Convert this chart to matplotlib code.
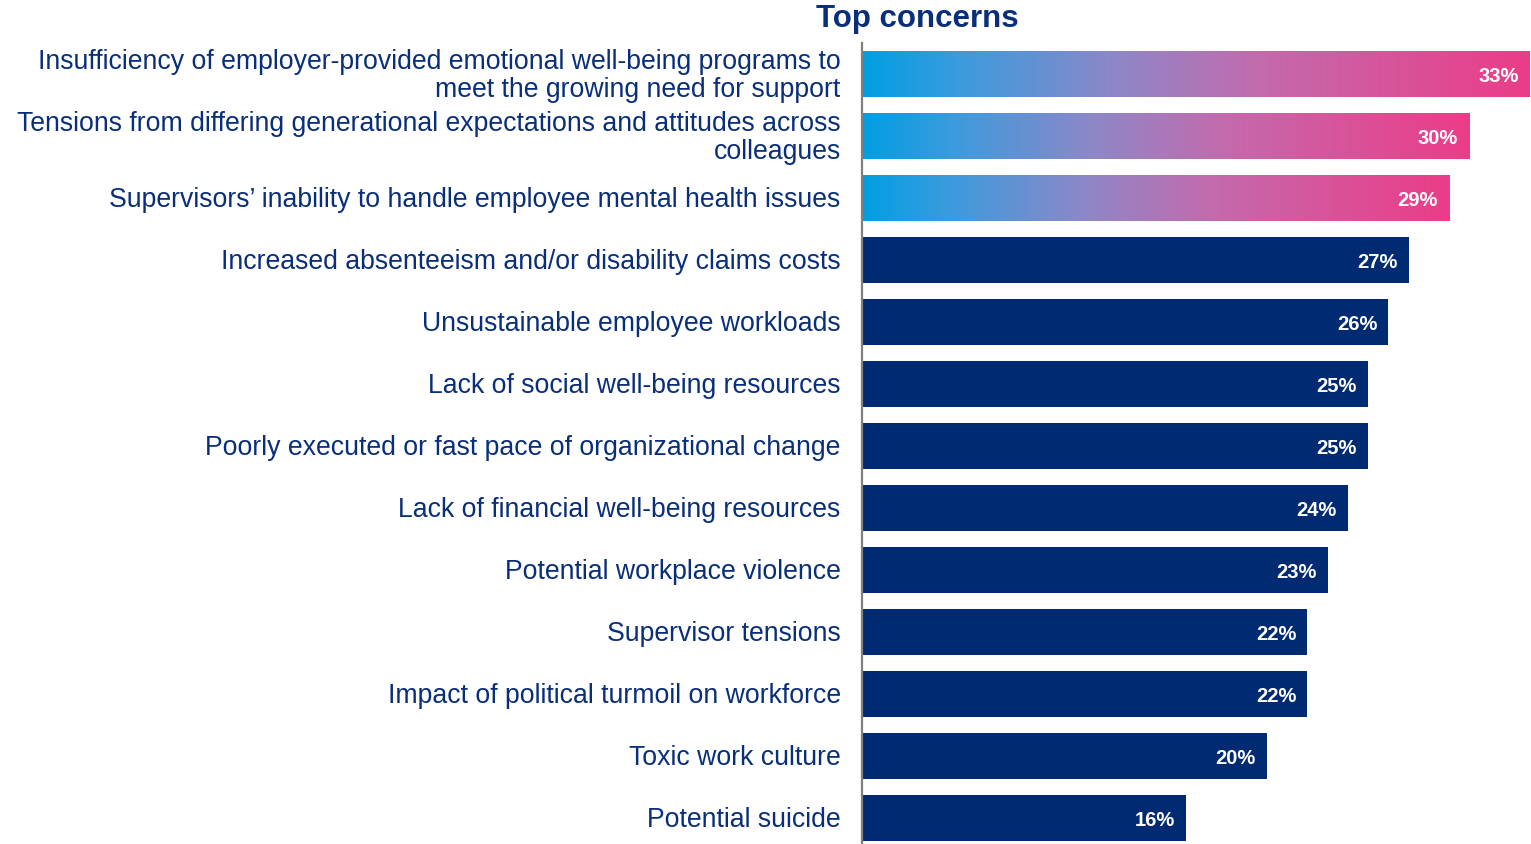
"""Horizontal bar chart of the top workplace mental health concerns."""

import matplotlib

matplotlib.use("Agg")

import matplotlib.pyplot as plt
import numpy as np
from matplotlib.colors import LinearSegmentedColormap

CONCERNS = [
    "Insufficiency of employer-provided emotional well-being programs to\nmeet the growing need for support",
    "Tensions from differing generational expectations and attitudes across\ncolleagues",
    "Supervisors\u2019 inability to handle employee mental health issues",
    "Increased absenteeism and/or disability claims costs",
    "Unsustainable employee workloads",
    "Lack of social well-being resources",
    "Poorly executed or fast pace of organizational change",
    "Lack of financial well-being resources",
    "Potential workplace violence",
    "Supervisor tensions",
    "Impact of political turmoil on workforce",
    "Toxic work culture",
    "Potential suicide",
]
SHARES = [33, 30, 29, 27, 26, 25, 25, 24, 23, 22, 22, 20, 16]
HIGHLIGHTED = 3  # the first few bars get the gradient fill

NAVY = "#002b73"
TEXT = "#0a2f7a"
GRADIENT = LinearSegmentedColormap.from_list(
    "blue_pink",
    [(0.0, "#009fe3"), (0.15, "#3c9bdd"), (0.38, "#8e87c7"), (0.6, "#c46aac"), (1.0, "#ec3c88")],
    N=1024,
)
BAR_HEIGHT = 0.74


def main() -> int:
    plt.rcParams["font.family"] = ["Liberation Sans", "DejaVu Sans"]

    fig = plt.figure(figsize=(15.31, 8.45), dpi=100)
    ax = fig.add_axes([862 / 1531, 0.0, 1 - 862 / 1531, 801 / 845])

    ramp = GRADIENT(np.linspace(0, 1, 700))[np.newaxis, :, :3]
    for i, (label, value) in enumerate(zip(CONCERNS, SHARES)):
        if i < HIGHLIGHTED:
            ax.imshow(
                ramp,
                aspect="auto",
                interpolation="antialiased",
                extent=[0, value, i + BAR_HEIGHT / 2, i - BAR_HEIGHT / 2],
                zorder=2,
            )
        else:
            ax.barh(i, value, height=BAR_HEIGHT, color=NAVY, zorder=2)

        ax.text(value - 0.55, i + 0.02, f"{value}%", ha="right", va="center",
                color="white", fontsize=14.5, fontweight="bold", zorder=3)
        ax.text(-1.05, i + 0.02, label, ha="right", va="center", color=TEXT,
                fontsize=19.2, linespacing=1.12, clip_on=False)

    ax.set_xlim(0, 33.05)
    ax.set_ylim(12 + 26 / 62, -0.5)
    ax.set_xticks([])
    ax.set_yticks([])
    for side in ("top", "right", "bottom"):
        ax.spines[side].set_visible(False)
    ax.spines["left"].set_color("#808080")
    ax.spines["left"].set_linewidth(1.6)

    fig.text(917 / 1531, 1 - 19 / 845, "Top concerns", ha="center", va="center",
             color=TEXT, fontsize=22.5, fontweight="bold")

    fig.savefig("out.png", dpi=100, facecolor="white")
    plt.close(fig)
    return 0


if __name__ == "__main__":
    raise SystemExit(main())
